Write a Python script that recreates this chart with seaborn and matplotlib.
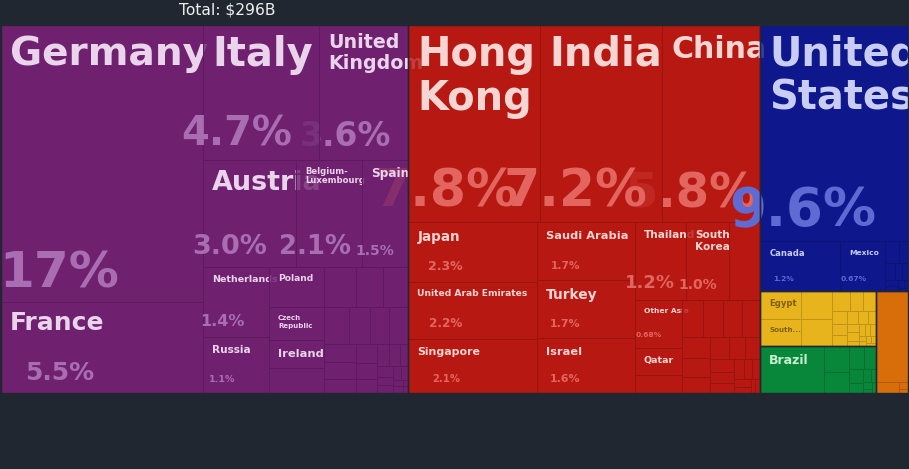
import matplotlib
matplotlib.use("Agg")
import matplotlib.pyplot as plt
from matplotlib.patches import Rectangle
from matplotlib.font_manager import FontProperties
import seaborn as sns
import pandas as pd

# ---------------- data (share of exports, %) ----------------
TITLE = "Total: $296B"

continents = ["Europe", "Asia", "North America", "Africa", "South America", "Oceania"]

europe_countries = ["Germany", "France", "Italy", "United Kingdom", "Austria", "Belgium-Luxembourg",
                    "Spain", "Netherlands", "Russia", "Poland", "Czech Republic", "Ireland", "Sweden",
                    "Portugal", "Denmark", "Hungary", "Romania", "Greece", "Finland", "Norway",
                    "Slovakia", "Ukraine", "Slovenia", "Croatia", "Bulgaria", "Serbia", "Lithuania",
                    "Estonia", "Latvia", "Malta", "Cyprus", "Iceland", "Bosnia and Herzegovina",
                    "North Macedonia", "Albania", "Belarus", "Moldova", "Montenegro"]
europe_values = [16.8, 5.5, 4.7, 3.6, 3.0, 2.1, 1.5, 1.4, 1.1, 0.66, 0.54, 0.46, 0.41,
                 0.40, 0.32, 0.31, 0.28, 0.23, 0.22, 0.21,
                 0.18, 0.16, 0.14, 0.12, 0.10, 0.09, 0.08, 0.07, 0.06, 0.05, 0.04, 0.04, 0.03,
                 0.03, 0.02, 0.02, 0.01, 0.01]

asia_countries = ["Hong Kong", "India", "China", "Japan", "United Arab Emirates", "Singapore",
                  "Saudi Arabia", "Turkey", "Israel", "Thailand", "South Korea", "Kuwait",
                  "Other Asia", "Qatar", "Lebanon", "Malaysia", "Kazakhstan", "Vietnam", "Indonesia",
                  "Philippines", "Bahrain", "Oman", "Jordan", "Iran", "Pakistan", "Iraq",
                  "Bangladesh", "Sri Lanka", "Azerbaijan", "Georgia", "Uzbekistan", "Armenia",
                  "Macau", "Cambodia", "Myanmar"]
asia_values = [7.8, 7.2, 5.8, 2.3, 2.2, 2.1, 1.7, 1.7, 1.6, 1.2, 1.0, 0.74,
               0.68, 0.39, 0.25, 0.23, 0.22, 0.21, 0.20,
               0.18, 0.16, 0.14, 0.12, 0.11, 0.10, 0.09, 0.08, 0.07, 0.06, 0.05, 0.05, 0.04,
               0.03, 0.02, 0.02]

namerica_countries = ["United States", "Canada", "Mexico", "Panama", "Dominican Republic",
                      "Guatemala", "Costa Rica", "Bahamas", "Cuba", "Jamaica", "Honduras",
                      "Trinidad and Tobago", "El Salvador"]
namerica_values = [9.6, 1.2, 0.67, 0.09, 0.06, 0.045, 0.035, 0.03, 0.025, 0.02, 0.015, 0.01, 0.01]

africa_countries = ["Egypt", "South Africa", "Morocco", "Nigeria", "Algeria", "Tunisia", "Kenya",
                    "Ghana", "Ivory Coast", "Angola", "Ethiopia", "Senegal", "Libya", "Tanzania",
                    "Cameroon", "Mauritius", "Sudan", "Uganda", "Zambia", "Gabon", "Namibia",
                    "Mozambique", "Botswana", "Madagascar"]
africa_values = [0.34, 0.33, 0.26, 0.26, 0.10, 0.08, 0.07, 0.06, 0.05, 0.05, 0.04, 0.04, 0.03,
                 0.03, 0.03, 0.02, 0.02, 0.02, 0.02, 0.01, 0.01, 0.01, 0.01, 0.01]

samerica_countries = ["Brazil", "Argentina", "Chile", "Colombia", "Peru", "Uruguay", "Ecuador",
                      "Venezuela", "Paraguay", "Bolivia", "Guyana", "Suriname"]
samerica_values = [0.89, 0.20, 0.16, 0.10, 0.08, 0.06, 0.04, 0.03, 0.02, 0.02, 0.01, 0.01]

oceania_countries = ["Australia", "New Zealand", "Papua New Guinea", "Fiji"]
oceania_values = [0.88, 0.08, 0.02, 0.01]

frames = []
for cont, names, vals in zip(continents,
                             [europe_countries, asia_countries, namerica_countries,
                              africa_countries, samerica_countries, oceania_countries],
                             [europe_values, asia_values, namerica_values,
                              africa_values, samerica_values, oceania_values]):
    frames.append(pd.DataFrame({"continent": cont, "country": names, "value": vals}))
df = pd.concat(frames, ignore_index=True)
TOTAL = df["value"].sum()

# ---------------- styles ----------------
BG = "#212730"
cont_colors = sns.color_palette(["#6f2170", "#b81812", "#0e178c", "#e8b41e", "#08863a", "#d86e0a"])
name_colors = {"Europe": "#ead4ec", "Asia": "#f6d5d2", "North America": "#c9cdf3",
               "Africa": "#7d5f10", "South America": "#c6efd0", "Oceania": "#f6ddc2"}
share_colors = {"Europe": "#a96db2", "Asia": "#e2665f", "North America": "#5f6ad3",
                "Africa": "#7d5f10", "South America": "#8fd8a0", "Oceania": "#f0b070"}

# label sizes in pixels: (name size, share size, displayed name)
label_style = {
    "Germany": (39, 50, None), "France": (25, 25, None), "Italy": (40, 40, None),
    "United Kingdom": (19, 33, "United\nKingdom"), "Austria": (27, 27, None),
    "Belgium-Luxembourg": (8.5, 26, "Belgium-\nLuxembourg"), "Spain": (12, 14, None),
    "Netherlands": (9.5, 16, None), "Russia": (10.5, 9.5, None), "Poland": (9.2, None, None),
    "Czech Republic": (7, None, "Czech\nRepublic"), "Ireland": (11.5, None, None),
    "Hong Kong": (40, 52, "Hong\nKong"), "India": (40, 52, None), "China": (30, 48, None),
    "Japan": (13.5, 12.5, None), "United Arab Emirates": (9.2, 12, None),
    "Singapore": (11, 10, None), "Saudi Arabia": (11.4, 10.5, None), "Turkey": (13.7, 11, None),
    "Israel": (11.4, 11, None), "Thailand": (10.5, 18, None), "South Korea": (10.5, 14, "South\nKorea"),
    "Other Asia": (7.5, 7.5, None), "Qatar": (9.5, None, None),
    "United States": (40, 53, "United\nStates"), "Canada": (8.5, 7.5, None), "Mexico": (7.5, 7.5, None),
    "Egypt": (8.5, None, None), "South Africa": (7.2, None, "South..."), "Brazil": (12.5, None, None),
}
draw_last = ["Italy", "Spain", "India"]

PHI = (1 + 5 ** 0.5) / 2


def squarify(values, x0, y0, x1, y1, ratio=PHI):
    """d3.treemapSquarify layout (values sorted descending)."""
    n = len(values)
    out = [None] * n
    value = float(sum(values))
    i0 = i1 = 0
    while i0 < n:
        dx, dy = x1 - x0, y1 - y0
        sumv = values[i1]
        i1 += 1
        minv = maxv = sumv
        alpha = max(dy / dx, dx / dy) / (value * ratio)
        beta = sumv * sumv * alpha
        minr = max(maxv / beta, beta / minv)
        while i1 < n:
            nv = values[i1]
            s2 = sumv + nv
            mn, mx = min(minv, nv), max(maxv, nv)
            beta = s2 * s2 * alpha
            nr = max(mx / beta, beta / mn)
            if nr > minr:
                break
            sumv, minv, maxv, minr = s2, mn, mx, nr
            i1 += 1
        if dx < dy:
            yb = y0 + dy * sumv / value if value else y1
            xx = x0
            for i in range(i0, i1):
                w = dx * values[i] / sumv
                out[i] = (xx, y0, xx + w, yb)
                xx += w
            y0 = yb
        else:
            xb = x0 + dx * sumv / value if value else x1
            yy = y0
            for i in range(i0, i1):
                h = dy * values[i] / sumv
                out[i] = (x0, yy, xb, yy + h)
                yy += h
            x0 = xb
        value -= sumv
        i0 = i1
    return out


def fmt_share(p):
    if p >= 9.95:
        return f"{p:.0f}%"
    return f"{p:#.2g}%"


def darker(c, f):
    return tuple(v * f for v in c)


sns.set_theme(style="dark", rc={"axes.facecolor": BG, "figure.facecolor": BG})
plt.rcParams["font.family"] = ["DejaVu Sans"]

W, H = 909, 469
fig = plt.figure(figsize=(W / 100, H / 100), dpi=100)
ax = fig.add_axes([0, 0, 1, 1])
ax.set_xlim(0, W)
ax.set_ylim(H, 0)
ax.axis("off")

PX = 0.72  # points per pixel at dpi 100
bold = FontProperties(family="DejaVu Sans", weight="bold")

cont_tot = df.groupby("continent", sort=False)["value"].sum()
cont_order = cont_tot.sort_values(ascending=False).index.tolist()
cont_rects = squarify([cont_tot[c] for c in cont_order], 1, 25, 908, 393)

leaves = []
for c, r in zip(cont_order, cont_rects):
    col = cont_colors[continents.index(c)]
    ax.add_patch(Rectangle((r[0], r[1]), r[2] - r[0], r[3] - r[1], facecolor=col,
                           edgecolor="none", zorder=1))
    sub = df[df["continent"] == c].sort_values("value", ascending=False)
    rs = squarify(sub["value"].tolist(), *r)
    for (_, row), rr in zip(sub.iterrows(), rs):
        leaves.append((c, row["country"], row["value"], rr, col))

leaves = [l for l in leaves if l[1] not in draw_last] + \
         [l for n in draw_last for l in leaves if l[1] == n]

z = 10
for c, name, val, (x0, y0, x1, y1), col in leaves:
    ax.add_patch(Rectangle((x0, y0), x1 - x0, y1 - y0, facecolor=(*col, 0.8),
                           edgecolor=darker(col, 0.82), linewidth=0.7, zorder=z))
    st = label_style.get(name)
    if st:
        nfs, sfs, disp = st
        lines = (disp or name).split("\n")
        base = y0 + 7 + 0.12 * nfs + 0.73 * nfs
        for k, line in enumerate(lines):
            ax.text(x0 + 9, base + k * 1.1 * nfs, line, fontproperties=bold,
                    fontsize=nfs * PX, color=name_colors[c], ha="left", va="baseline",
                    zorder=z + 1)
        if sfs:
            ax.text(x0 + 0.29 * (x1 - x0), y1 - 10 - 0.1 * sfs, fmt_share(val / TOTAL * 100),
                    fontproperties=bold, fontsize=sfs * PX, color=share_colors[c],
                    ha="center", va="baseline", zorder=z + 1)
    z += 2

for r in cont_rects:
    ax.add_patch(Rectangle((r[0], r[1]), r[2] - r[0], r[3] - r[1], facecolor="none",
                           edgecolor=BG, linewidth=1.0, zorder=z + 5))

ax.text(227, 10, TITLE, fontsize=15.5 * PX, color="#eeeeee", ha="center", va="center",
        zorder=z + 6)

fig.savefig("out.png", dpi=100, facecolor=BG)
